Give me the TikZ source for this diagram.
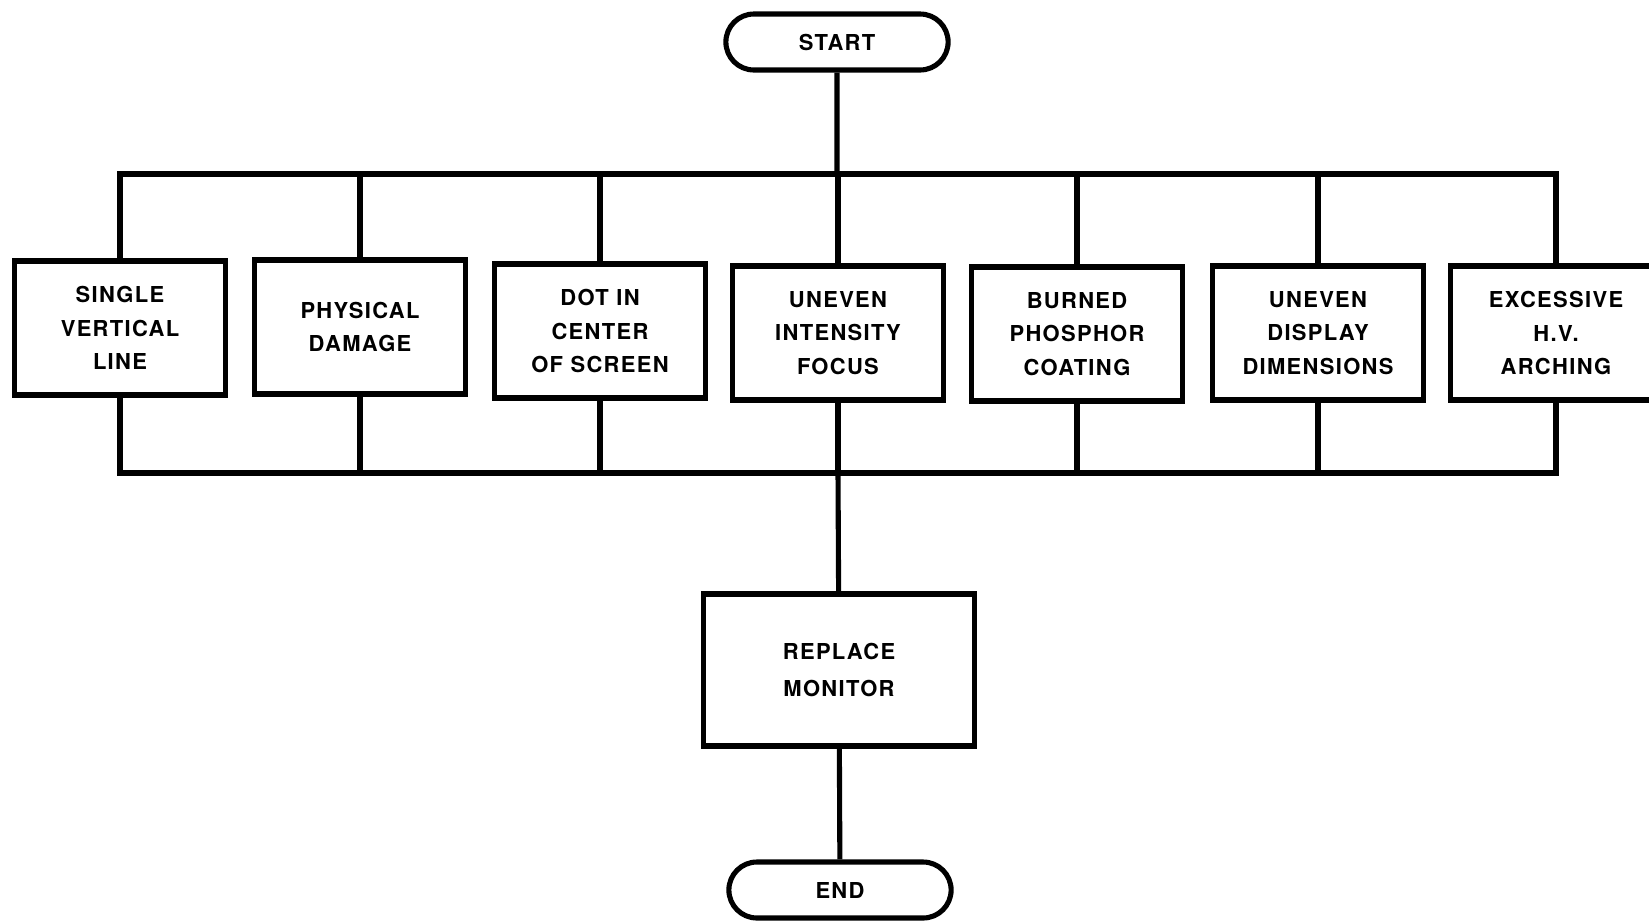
\documentclass[tikz,border=0pt]{standalone}
\usepackage{fontspec}
\setmainfont{TeX Gyre Heros}[LetterSpace=6]
\usetikzlibrary{shapes.misc}
\begin{document}
\begin{tikzpicture}[x=0.02cm,y=-0.02cm,line width=2.9pt,
    every node/.style={font=\bfseries\fontsize{12.5}{19}\selectfont,align=center},
    fault/.style={draw,rectangle,minimum width=4.22cm,minimum height=2.68cm},
    terminal/.style={draw,rounded rectangle,minimum width=4.68cm,minimum height=1.12cm}]
    \useasboundingbox (0,0) rectangle (1649,920);
    \node[terminal] (start) at (837,42) {START};
    \node[fault] (b1) at (120,328) {SINGLE\\VERTICAL\\LINE};
    \node[fault] (b2) at (360,327) {PHYSICAL\\DAMAGE};
    \node[fault] (b3) at (600,331) {DOT IN\\CENTER\\OF SCREEN};
    \node[fault] (b4) at (838,333) {UNEVEN\\INTENSITY\\FOCUS};
    \node[fault] (b5) at (1077,334) {BURNED\\PHOSPHOR\\COATING};
    \node[fault] (b6) at (1318,333) {UNEVEN\\DISPLAY\\DIMENSIONS};
    \node[fault] (b7) at (1556,333) {EXCESSIVE\\H.V.\\ARCHING};
    \node[draw,rectangle,minimum width=5.42cm,minimum height=3.04cm,
      font=\bfseries\fontsize{12.5}{21}\selectfont] (replace) at (839,670) {REPLACE\\MONITOR};
    \node[terminal] (end) at (840,890) {END};
    \coordinate (tbus) at (837,174);
    \coordinate (bbus) at (838,473);
    % buses
    \draw (start) -- (tbus);
    \draw (b1.north) -- (b1.north |- tbus) -- (b7.north |- tbus) -- (b7.north);
    \draw (b1.south) -- (b1.south |- bbus) -- (b7.south |- bbus) -- (b7.south);
    \foreach \n in {b2,b3,b4,b5,b6}
      {
      \draw (\n.north) -- (\n.north |- tbus);
      \draw (\n.south) -- (\n.south |- bbus);
      }
    \draw (bbus) -- (replace);
    \draw (replace) -- (end);
\end{tikzpicture}
\end{document}
